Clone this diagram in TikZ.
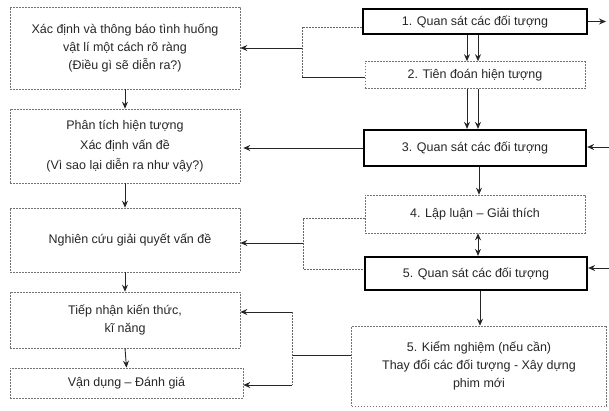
\documentclass[tikz,border=0pt]{standalone}
\usepackage{fontspec}
\setmainfont{Liberation Sans}
\usetikzlibrary{arrows.meta}
\begin{document}
\begin{tikzpicture}[x=1pt,y=-1pt,
  every node/.style={text=black!85, font=\fontsize{12.5}{18}\selectfont},
  thinbox/.style={draw=black!55, dash pattern=on 1.6pt off 1.4pt, line width=0.6pt,
                  align=center, inner sep=0pt},
  thickbox/.style={draw=black, line width=2.2pt, align=center, inner sep=0pt},
  arr/.style={-{Stealth[length=7pt,width=6pt]}, line width=0.9pt, draw=black!85},
  link/.style={draw=black!60, dash pattern=on 1.6pt off 1.4pt, line width=0.7pt},
]
\useasboundingbox (0,0) rectangle (609,410);

% left column
\node[thinbox, minimum width=230, minimum height=82] (L1) at (125,48)
  {Xác định và thông báo tình huống\\ vật lí một cách rõ ràng\\ (Điều gì sẽ diễn ra?)};
\node[thinbox, minimum width=230, minimum height=74, font=\fontsize{12.5}{20}\selectfont] (L2) at (125,146)
  {Phân tích hiện tượng\\ Xác định vấn đề\\ (Vì sao lại diễn ra như vậy?)};
\node[thinbox, minimum width=230, minimum height=64] (L3) at (125,240)
  {\hspace*{10pt}Nghiên cứu giải quyết vấn đề};
\node[thinbox, minimum width=230, minimum height=56] (L4) at (125,320)
  {Tiếp nhận kiến thức,\\ kĩ năng};
\node[thinbox, minimum width=233, minimum height=30] (L5) at (126.5,383)
  {Vận dụng – Đánh giá};

% right column
\node[thickbox, minimum width=224, minimum height=25] (R1) at (475,21.5)
  {1. Quan sát các đối tượng};
\node[thinbox, minimum width=220, minimum height=27] (R2) at (475,75)
  {2. Tiên đoán hiện tượng};
\node[thickbox, minimum width=222, minimum height=36] (R3) at (475,148)
  {3. Quan sát các đối tượng};
\node[thinbox, minimum width=220, minimum height=38] (R4) at (475,214)
  {4. Lập luận – Giải thích};
\node[thickbox, minimum width=222, minimum height=33] (R5) at (476,273.5)
  {5. Quan sát các đối tượng};
\node[thinbox, minimum width=255, minimum height=80] (R6) at (479,366)
  {5. Kiểm nghiệm (nếu cần)\\ Thay đổi các đối tượng - Xây dựng\\ phim mới};

% free ends at the right edge
\coordinate (e1) at (606,21.5);
\coordinate (in3) at (609,147);
\coordinate (in5) at (609,268);

% junction points
\coordinate (b1) at (302,48);
\coordinate (b1t) at (302,27);
\coordinate (b1b) at (302,77);
\coordinate (b2) at (303,243);
\coordinate (b2t) at (303,218);
\coordinate (b2b) at (303,269);
\coordinate (b3) at (292,355);
\coordinate (b3t) at (292,312);
\coordinate (b3b) at (292,385);

% left column flow
\draw[arr] (L1.south) -- (L2.north);
\draw[arr] (L2.south) -- (L3.north);
\draw[arr] (L3.south) -- (L4.north);
\draw[arr] (L4.south) -- (L5.north);

% right column flow
\draw[arr] (R1.east) -- (e1);
\draw[arr] ([xshift=-8pt]R1.south) -- ([xshift=-8pt]R2.north);
\draw[arr] ([xshift=3pt]R1.south) -- ([xshift=3pt]R2.north);
\draw[arr] ([xshift=-8pt]R2.south) -- ([xshift=-8pt]R3.north);
\draw[arr] ([xshift=3pt]R2.south) -- ([xshift=3pt]R3.north);
\draw[arr] ([xshift=4pt]R3.south) -- ([xshift=4pt]R4.north);
\draw[arr, {Stealth[length=7pt,width=6pt]}-{Stealth[length=7pt,width=6pt]}]
  ([xshift=3pt]R4.south) -- ([xshift=2pt]R5.north);
\draw[arr] ([xshift=4pt]R5.south) -- ([xshift=1pt]R6.north);
\draw[arr] (in3) -- (in3 -| R3.east);
\draw[arr] (in5) -- (in5 -| R5.east);

% links between the columns
\draw[link] (b1t -| R1.west) -- (b1t) -- (b1b);
\draw[line width=0.9pt, black!85] (b1b -| R2.west) -- (b1b);
\draw[arr] (b1) -- (b1 -| L1.east);

\draw[arr] (R3.west) -- ([xshift=3pt]R3.west -| L2.east);

\draw[link] (b2t -| R4.west) -- (b2t) -- (b2b) -- (b2b -| R5.west);
\draw[arr] (b2) -- (b2 -| L3.east);

\draw[line width=0.9pt, black!85] (b3 -| R6.west) -- (b3);
\draw[link] (b3t) -- (b3b);
\draw[arr] (b3t) -- (b3t -| L4.east);
\draw[arr] (b3b) -- (b3b -| L5.east);
\end{tikzpicture}
\end{document}
